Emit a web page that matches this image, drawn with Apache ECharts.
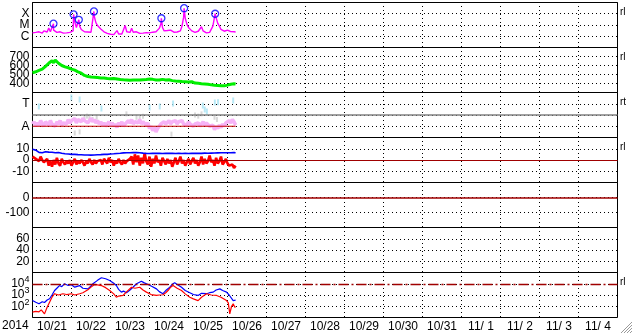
<!DOCTYPE html>
<html><head><meta charset="utf-8">
<script src="https://cdn.jsdelivr.net/npm/echarts@6/dist/echarts.min.js"></script>
<style>html,body{margin:0;padding:0;background:#fff}#c{width:633px;height:334px}</style>
</head><body><div id="c"></div>
<script>
// ---- time axis (hours since 2014-10-21 00:00 UT) ----
const yearLabel = '2014';
const dateLabels = ['10/21','10/22','10/23','10/24','10/25','10/26','10/27','10/28','10/29','10/30','10/31','11/ 1','11/ 2','11/ 3','11/ 4'];
const hoursPerDay = 24;

// ---- panel 1: X-ray flux (units of 1e-6 W/m2, hourly) ----
const xrayFlux = [
 2.0,1.8,2.2,1.7,2.5,2.0,1.9,3.0,2.1,2.4,
 5.5,2.5,3.0,3.5,3.5,2.2,2.0,2.5,2.1,1.9,
 2.3,2.0,2.6,2.2,2.5,3.0,20,6.0,7.0,8.0,
 4.0,3.0,2.5,2.2,2.4,2.0,2.3,3.0,60,16,
 9,6,4.5,3.5,2.5,2.2,1.8,1.6,1.5,1.5,
 1.4,1.5,3.2,1.6,1.5,1.6,2.0,9,2.5,2.0,
 2.2,5.0,2.3,2.0,2.5,2.2,1.8,2.0,1.9,2.4,
 2.1,1.8,2.0,1.7,2.3,1.9,2.5,3.0,5.0,12,
 6,3,2.8,3.2,2.6,3.5,2.8,2.3,2.0,2.4,
 2.5,3.0,8.0,50,40,12,6,4,3,2.5,
 2.2,2.6,2.8,3,7,3,2.2,2.0,2.5,2.2,
 3,8,50,45,14,8,4,3.5,2.8,2.5,
 3.5,2.4,2.6,2.3,2.5,2.4];
const flareHours = [12.9, 25.3, 28.5, 37.8, 79.3, 93.3, 112.4];
const flareFlux  = [13, 87, 29, 160, 40, 310, 100];
const xrayTickVals = [1, 10, 100];
const xrayTickLabels = ['C', 'M', 'X'];

// ---- panel 2: solar wind speed (km/s, hourly) ----
const windSpeed = [
 520,512,530,525,545,538,560,572,590,585,
 625,640,655,630,660,640,625,615,600,608,
 585,590,575,580,560,565,548,552,530,528,
 515,500,490,485,478,470,472,465,470,462,
 466,458,462,455,460,450,455,448,452,450,
 455,446,450,440,445,438,442,435,440,432,
 436,430,438,432,440,445,438,448,442,452,
 445,455,450,448,446,452,440,445,438,442,
 446,438,440,435,442,436,432,438,428,432,
 425,430,422,428,420,424,418,415,420,410,
 405,400,402,396,398,392,395,388,392,386,
 385,388,380,384,378,382,376,380,374,378,
 382,386,392,388,398,395];

// ---- panel 3: IMF sector (A=1, T=3) ----
const phiPink = [
 1.2,1.4,1.0,1.3,1.1,1.5,1.2,1.0,1.4,1.3,
 1.1,1.5,1.2,1.3,1.0,1.4,1.2,1.5,1.1,1.3,
 1.4,1.2,1.6,1.3,1.5,1.4,1.7,1.3,1.6,1.5,
 1.4,1.7,1.5,1.6,1.3,1.5,1.7,1.4,1.6,1.3,
 1.5,1.2,1.4,1.1,1.3,1.0,1.2,1.4,1.1,1.3,
 1.0,1.2,0.9,1.3,1.1,1.4,1.0,1.2,1.3,1.5,
 1.3,1.6,1.2,1.4,1.5,1.3,1.6,1.2,1.4,1.3,
 1.1,1.3,0.8,1.0,0.6,0.9,0.5,0.8,1.0,1.2,
 1.1,1.4,1.2,1.3,1.5,1.2,1.4,1.3,1.5,1.2,
 1.4,1.3,1.5,1.2,1.3,1.1,1.4,1.2,1.3,1.0,
 1.2,1.1,1.3,1.0,1.2,1.4,1.1,1.3,1.2,1.0,
 0.9,1.1,0.7,1.0,0.8,1.1,0.9,1.2,1.0,1.3,
 1.2,1.5,1.3,1.6,1.4,1.1];
const phiGrayHours = [26,29,32,33.5,35,37,39.5,57.8,64,66,68,85.5,100,102,104,112,113.5];
const phiGrayVals  = [0.4,0.5,1.7,1.9,1.8,1.6,1.8,2.1,1.8,1.7,1.9,0.3,2.0,1.9,2.1,1.8,1.6];
const phiBlueHours = [3.9,23.9,29,42.4,72.1,78.3,86.5,104.8,106,107.3,112.2,114.2,123.5];
const phiBlueVals  = [2.76,3.56,3.38,2.58,2.67,2.76,3.02,2.84,2.49,2.31,3.11,3.14,3.29];
const phiTickVals = [1, 3];
const phiTickLabels = ['A', 'T'];
const phiSectorLine = 2;

// ---- panel 4: IMF Bt / Bz (nT, hourly) ----
const imfBt = [
 9.5,9.2,8.8,7.5,6.8,7.2,6.5,7.0,7.4,7.3,
 7.0,6.8,6.9,6.6,6.5,6.4,6.6,6.2,6.0,5.8,
 5.6,5.5,5.3,5.1,5.0,5.2,5.0,4.9,4.8,4.9,
 4.7,4.6,4.5,4.4,4.5,4.4,4.3,4.5,4.4,4.6,
 4.7,4.6,4.8,4.9,5.0,5.1,5.0,5.2,5.3,5.4,
 5.5,5.6,5.8,5.9,6.0,6.1,6.3,6.2,6.4,6.5,
 6.5,6.4,6.6,6.5,6.6,6.4,6.5,6.3,6.1,6.0,
 5.9,6.0,5.8,5.9,6.0,5.8,5.9,6.1,6.0,5.9,
 5.8,6.0,5.9,6.1,6.0,5.8,5.9,6.0,5.8,5.9,
 6.0,5.9,5.8,6.0,5.9,6.1,5.8,5.7,5.9,6.0,
 5.9,6.1,6.0,5.8,5.9,6.0,6.1,5.9,6.0,6.2,
 6.1,6.3,6.2,6.4,6.3,6.5,6.4,6.3,6.5,6.4,
 6.5,6.6,6.4,6.5,6.6,6.5];
const imfBz = [
 3,4,1,2,-1,3,0,-2,-3,1,
 -5,-1,-6,0,-4,2,-3,-5,1,-2,
 -4,-1,-3,0,-5,-2,1,-4,-1,-3,
 0,-2,-5,-1,-3,1,-2,-4,0,-3,
 -1,-2,0,-4,1,-1,-3,2,-2,0,
 -5,-1,-3,1,-2,-4,0,-3,-1,-2,
 1,3,-4,5,-2,4,-5,2,-3,6,
 -1,-4,3,-6,1,-3,4,-2,0,-5,
 2,-1,-4,1,-3,0,-6,-2,2,-4,
 -1,3,-3,0,-5,-2,1,-4,-1,2,
 -3,0,-5,-2,3,-4,1,-3,-1,4,
 -2,0,-5,2,-3,-1,3,-4,-2,1,
 -3,-5,-6,-4,-7,-5];

// ---- panel 7: particle flux (log) ----
const fluxBlueHours = [0,2,4,6,7.4,9,10.5,12,13.6,15,16.6,18,19.7,22,23.9,26,29,31,34.1,36,37.2,40,42.4,45,47.5,50,51.6,53,54.7,56,57.8,60,61.8,64,67,68.5,70.1,73,76.3,78,80.3,82,84.5,86,87.5,90,91.7,94,96.8,99,101.9,104,107.1,109,111.2,113,115.3,117,119.4,121,123.5,125];
const fluxBlueVals  = [320,225,165,250,215,355,460,1000,2500,4000,6900,5600,10000,7100,8100,5000,6900,4000,3500,6300,10000,20000,34000,28000,19500,11000,6900,3200,1800,2200,1600,2800,4900,10000,17000,12600,10000,6300,3500,2000,1300,2500,4900,8900,12000,7100,4900,2500,1600,1100,910,1400,1300,1600,1800,2800,3500,2500,1800,1000,320,350];
const fluxRedHours = [0,2,4,5.4,7.4,9,10.5,12,13.6,16,18.7,21,23.9,26,29,31,34.1,36,38.2,40,42.4,45,47.5,50,51.6,53,55.7,58,60.9,63,66,68,70.1,73,76.3,78,80.3,82,83.4,85,86.5,89,91.7,94,96.8,99,101.9,104,107.1,110,113.3,116,119.4,120.5,121.4,122.5,123.5,124.5,125];
const fluxRedVals  = [30,35,32,48,21,80,230,630,1300,1000,1300,1100,1300,1000,1300,1600,2900,5000,8500,7900,6900,4500,2500,1260,630,800,910,2000,4900,4000,4900,2800,1800,1100,910,1000,1050,1600,2500,5000,6900,4000,2500,1260,630,450,320,630,1300,1000,910,630,320,200,21,100,165,83,90];
const fluxThreshold = 1e4;

const rightMarks = ['rl','rl','rt','rl','','','rl'];

// ---------------------------------------------------------------
const FONT = 'Liberation Sans, Arial, Helvetica, sans-serif';
const nDays = dateLabels.length;
const xMax = nDays * hoursPerDay;
const hourly = arr => arr.map((v, i) => [i, v]);
const pairs = (h, v) => h.map((x, i) => [x, v[i]]);

const xrayData = hourly(xrayFlux).concat(pairs(flareHours, flareFlux)).sort((a, b) => a[0] - b[0]);

const panelTop = 2.5, panelH = 45, gridLeft = 32.5, gridW = 585;
const grids = [], xAxes = [], yAxes = [];
const dotted = { color: '#000', width: 1, type: [1, 3], dashOffset: 0.5 };
for (let i = 0; i < 7; i++) {
  grids.push({ left: gridLeft, top: panelTop + i * panelH, width: gridW, height: panelH,
    show: true, borderColor: '#000', borderWidth: 1, backgroundColor: 'transparent' });
  xAxes.push({ type: 'value', gridIndex: i, min: 0, max: xMax, interval: hoursPerDay,
    axisLine: { show: false }, axisTick: { show: false }, axisLabel: { show: false },
    splitLine: { show: true, lineStyle: dotted } });
}
xAxes.push({ type: 'category', gridIndex: 6, position: 'bottom', data: dateLabels, boundaryGap: true,
  axisLine: { show: false }, axisTick: { show: false }, splitLine: { show: false },
  axisLabel: { show: true, interval: 0, margin: 3, fontSize: 12, color: '#000', fontFamily: FONT } });

const lbl = (fmt, extra) => Object.assign({ show: true, margin: 3, fontSize: 12, color: '#000', fontFamily: FONT,
  showMinLabel: false, showMaxLabel: false, formatter: fmt }, extra || {});
const lookup = (vals, labels) => v => { const k = vals.findIndex(t => Math.abs(t - v) < 1e-6 * Math.max(1, Math.abs(t))); return k >= 0 ? labels[k] : ''; };
const baseY = (i, o) => Object.assign({ gridIndex: i, axisLine: { show: false }, axisTick: { show: false },
  splitLine: { show: true, lineStyle: dotted } }, o);

yAxes.push(baseY(0, { type: 'log', logBase: 10, min: 0.1, max: 1000,
  axisLabel: lbl(v => { const e = Math.round(Math.log10(v)); return lookup(xrayTickVals, xrayTickLabels)(Math.pow(10, e)); }) }));
yAxes.push(baseY(1, { type: 'value', min: 300, max: 800, interval: 100, axisLabel: lbl(v => String(v)) }));
yAxes.push(baseY(2, { type: 'value', min: 0, max: 4, interval: 1, axisLabel: lbl(lookup(phiTickVals, phiTickLabels)) }));
yAxes.push(baseY(3, { type: 'value', min: -20, max: 20, interval: 10, axisLabel: lbl(v => String(v)) }));
yAxes.push(baseY(4, { type: 'value', min: -200, max: 100, interval: 100, axisLabel: lbl(v => String(v)) }));
yAxes.push(baseY(5, { type: 'value', min: 0, max: 80, interval: 20, axisLabel: lbl(v => String(v)) }));
yAxes.push(baseY(6, { type: 'log', logBase: 10, min: 10, max: 1e5,
  axisLabel: lbl(v => { const e = Math.round(Math.log10(v)); return (e >= 2 && e <= 4) ? '{b|10}{s|' + e + '}' : ''; },
    { rich: { b: { fontSize: 12, fontFamily: FONT, color: '#000' }, s: { fontSize: 9, fontFamily: FONT, color: '#000', padding: [0, 0, 8, 0] } } }) }));

const line = (gi, data, color, width, extra) => Object.assign({ type: 'line', xAxisIndex: gi, yAxisIndex: gi,
  data, showSymbol: false, symbol: 'none', silent: true, animation: false,
  lineStyle: { color, width }, itemStyle: { color } }, extra || {});
const hline = (y, color, type, width) => ({ silent: true, symbol: 'none', animation: false, label: { show: false },
  lineStyle: { color, type: type || 'solid', width: width || 1 }, data: [{ yAxis: y }] });
const dots = (gi, data, color, size) => ({ type: 'scatter', xAxisIndex: gi, yAxisIndex: gi, data,
  symbol: 'rect', symbolSize: size, silent: true, animation: false, itemStyle: { color } });

const phiLast = phiPink.length - 1;
const series = [
  line(0, xrayData, '#ff00ff', 1.4),
  { type: 'scatter', xAxisIndex: 0, yAxisIndex: 0, data: pairs(flareHours, flareFlux), symbol: 'circle', symbolSize: 7,
    silent: true, animation: false, z: 5, itemStyle: { color: 'rgba(0,0,0,0)', borderColor: '#0000ff', borderWidth: 1.3 } },
  line(1, hourly(windSpeed), '#00ee00', 3),
  dots(2, pairs(phiGrayHours, phiGrayVals), '#d0d0d0', [2, 5]),
  line(2, hourly(phiPink), '#f6b2f6', 3.5, { markLine: hline(phiSectorLine, '#808080', 'solid', 1.5) }),
  dots(2, pairs(phiBlueHours, phiBlueVals), '#a8e4f4', [2, 6]),
  line(2, [[0, phiTickVals[0]], [phiLast, phiTickVals[0]]], '#c00000', 1.2),
  line(3, hourly(imfBz), '#ff0000', 2.6, { markLine: hline(0, '#a00000', 'solid', 1.2) }),
  line(3, hourly(imfBt), '#0000ff', 1.6),
  line(4, [], '#a00000', 1, { markLine: hline(0, '#a00000', 'solid', 1.5) }),
  line(6, pairs(fluxBlueHours, fluxBlueVals), '#0000ff', 1.2),
  line(6, pairs(fluxRedHours, fluxRedVals), '#ff0000', 1.2, { markLine: hline(fluxThreshold, '#a00000', [10, 3, 2, 3], 1.3) })
];

const graphics = [{ type: 'text', left: 2, top: 320, style: { text: yearLabel, fontSize: 12, fontFamily: FONT, fill: '#000' } }];
rightMarks.forEach((t, i) => { if (t) graphics.push({ type: 'text', left: 620, top: panelTop + i * panelH + 5,
  style: { text: t, fontSize: 10, fontFamily: FONT, fill: '#000' } }); });
for (let k = 0; k < 4; k++) graphics.push({ type: 'line', silent: true,
  shape: { x1: 621 + k * 3, y1: 333, x2: 632, y2: 322 + k * 3 }, style: { stroke: '#999', lineWidth: 1 } });

const chart = echarts.init(document.getElementById('c'), null, { renderer: 'canvas' });
chart.setOption({ animation: false, backgroundColor: '#fff', grid: grids, xAxis: xAxes, yAxis: yAxes, series, graphic: graphics });
</script></body></html>
